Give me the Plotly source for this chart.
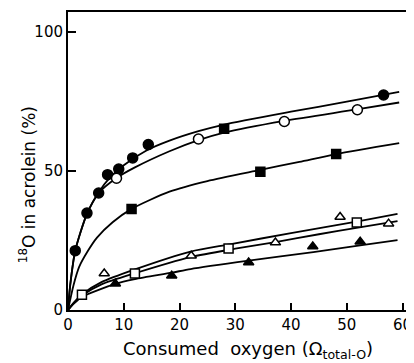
import plotly.graph_objects as go

# ---- measured points ----
filled_circle_x = [1.3, 3.4, 5.5, 7.1, 9.1, 11.6, 14.4, 56.6]
filled_circle_y = [21.3, 34.8, 42.0, 48.6, 50.6, 54.6, 59.4, 77.2]

open_circle_x = [8.7, 23.4, 38.8, 51.9]
open_circle_y = [47.3, 61.4, 67.7, 71.9]

filled_square_x = [11.4, 28.0, 34.5, 48.1]
filled_square_y = [36.3, 65.1, 49.6, 56.0]

open_square_x = [2.5, 12.0, 28.8, 51.8]
open_square_y = [5.5, 13.1, 22.1, 31.4]

open_triangle_x = [6.5, 22.1, 37.2, 48.8, 57.5]
open_triangle_y = [13.1, 19.5, 24.2, 33.4, 31.0]

filled_triangle_x = [8.5, 18.6, 32.4, 43.9, 52.4]
filled_triangle_y = [9.4, 12.3, 17.1, 22.8, 24.5]

# ---- fitted curves ----
curve_a_x = [0, 0.4, 1.3, 3.4, 5.5, 7.5, 10, 14, 18.2, 23.4, 28, 40, 50, 59.4]
curve_a_y = [0, 9, 21.3, 34.5, 42.2, 47.5, 52, 57.2, 60.8, 64.2, 66.6, 71.2, 74.8, 78.3]

curve_b_x = [0, 0.4, 1.3, 3.4, 5.5, 8.7, 12, 18.2, 23.4, 28, 38.8, 51.8, 59.4]
curve_b_y = [0, 9, 21.3, 34.5, 42.0, 47.4, 51.2, 57.0, 61.0, 63.7, 67.9, 72.0, 74.5]

curve_c_x = [0, 1, 2, 3.5, 5.2, 8, 11.4, 18.2, 25, 34.5, 41.5, 48.1, 59.4]
curve_c_y = [0, 9, 15.5, 21, 26, 31.5, 36.3, 42.5, 46.3, 50.3, 53.2, 56.0, 59.9]

curve_d_x = [0, 1, 2.5, 6, 12, 22, 29, 40, 52, 59.1]
curve_d_y = [0, 2.6, 5.6, 10, 14.6, 21, 23.6, 27.6, 31.8, 34.5]

curve_e_x = [0, 1, 2.5, 6, 12, 22, 30, 37.2, 45, 52, 59.1]
curve_e_y = [0, 2.4, 5.2, 9.2, 13.2, 19, 22, 24.4, 27.2, 29.6, 31.9]

curve_f_x = [0, 1, 2.5, 8.5, 12, 18.6, 22, 32.4, 44, 52.4, 59.1]
curve_f_y = [0, 2.2, 4.7, 9.4, 11.1, 13.4, 14.7, 17.7, 20.8, 23.2, 25.1]

x_ticks = [0, 10, 20, 30, 40, 50, 60]
y_ticks = [0, 50, 100]

fig = go.Figure()

for cx, cy in [(curve_a_x, curve_a_y), (curve_b_x, curve_b_y), (curve_c_x, curve_c_y),
               (curve_d_x, curve_d_y), (curve_e_x, curve_e_y), (curve_f_x, curve_f_y)]:
    fig.add_trace(go.Scatter(x=cx, y=cy, mode="lines",
                             line=dict(color="black", width=1.8, shape="spline", smoothing=0.7),
                             hoverinfo="skip", showlegend=False))

def add_markers(xs, ys, symbol, size, fill):
    fig.add_trace(go.Scatter(x=xs, y=ys, mode="markers", showlegend=False,
                             marker=dict(symbol=symbol, size=size, color=fill,
                                         line=dict(color="black", width=1.5))))

add_markers(filled_circle_x, filled_circle_y, "circle", 10, "black")
add_markers(open_circle_x, open_circle_y, "circle", 10, "white")
add_markers(filled_square_x, filled_square_y, "square", 9, "black")
add_markers(open_square_x, open_square_y, "square", 9, "white")
add_markers(open_triangle_x, open_triangle_y, "triangle-up", 9, "white")
add_markers(filled_triangle_x, filled_triangle_y, "triangle-up", 9, "black")

font = dict(family="DejaVu Sans", size=15, color="black")

# the page body adds an 8px offset, so the figure is 8px smaller on each axis
fig.update_layout(
    width=406, height=355,
    margin=dict(l=60, r=6, t=2, b=53),
    paper_bgcolor="white", plot_bgcolor="white",
    font=font,
    showlegend=False,
    xaxis=dict(range=[0, 60.8], tickvals=x_ticks, ticktext=[str(v) for v in x_ticks],
               ticks="inside", ticklen=7, tickwidth=1.5, tickcolor="black",
               showline=True, linecolor="black", linewidth=2, mirror=True,
               showgrid=False, zeroline=False, tickfont=font),
    yaxis=dict(range=[0, 107], tickvals=y_ticks, ticktext=[str(v) for v in y_ticks],
               ticks="inside", ticklen=8, tickwidth=1.5, tickcolor="black",
               showline=True, linecolor="black", linewidth=2, mirror=True,
               showgrid=False, zeroline=False, tickfont=font),
    annotations=[
        dict(text="Consumed  oxygen (Ω<sub>total-O</sub>)", xref="paper", yref="paper",
             x=0.53, y=-0.133, xanchor="center", yanchor="middle", showarrow=False,
             font=dict(family="DejaVu Sans", size=18, color="black")),
        dict(text="<sup>18</sup>O in acrolein (%)", xref="paper", yref="paper",
             x=-0.12, y=0.42, xanchor="center", yanchor="middle", textangle=-90,
             showarrow=False, font=dict(family="DejaVu Sans", size=17, color="black")),
    ],
)

fig.write_html("out.html")
